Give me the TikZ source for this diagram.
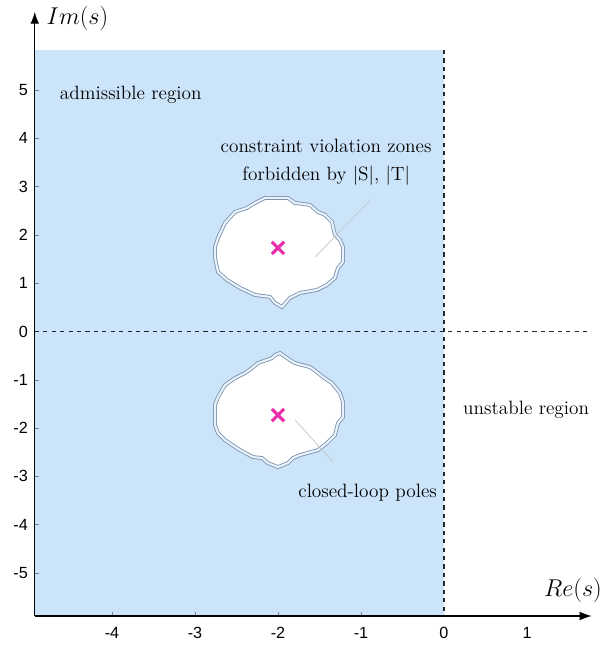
\documentclass[tikz,border=0pt]{standalone}
\usepackage{fontspec}
\newfontfamily\ticksans{Liberation Sans}
\usetikzlibrary{arrows.meta,shapes.misc}
\definecolor{admblue}{RGB}{204,228,250}
\definecolor{zoneline}{RGB}{125,145,172}
\definecolor{polemag}{RGB}{232,45,172}
\tikzset{
  axis/.style={line width=1pt,-{Latex[length=3mm,width=2.2mm]}},
  tickmark/.style={gray,line width=0.4pt},
  ticklab/.style={font=\ticksans\fontsize{11.5}{13}\selectfont,inner sep=0pt},
  regionlab/.style={font=\fontsize{13.7}{20}\selectfont,text=black,inner sep=0pt},
  axlab/.style={font=\fontsize{16}{19}\selectfont,inner sep=0pt},
  zone/.style={draw=zoneline,line width=0.6pt,double=admblue!45!white,double distance=1.5pt,fill=white},
  pole/.style={cross out,draw=polemag,line width=2.2pt,minimum size=6.5pt,inner sep=0pt},
  leader/.style={draw=gray!45,line width=0.5pt},
  boundary/.style={dashed,line width=0.8pt,black!85}
}
\begin{document}
\begin{tikzpicture}[x=2.075cm,y=1.2075cm]
    \useasboundingbox (-5.349,-6.511) rectangle (1.940,6.863);
    \fill[admblue] (-4.93,-5.89) rectangle (0,5.83);

    \begin{scope}[shift={(-2,1.73)},x=0.025cm,y=-0.025cm]
        \draw[zone] (-43,-36) -- (-31,-40) -- (-23,-45) -- (-13,-50) -- (10,-50) -- (17,-45) -- (32,-43) -- (40,-36)
            -- (47,-33) -- (54,-26) -- (57,-13) -- (62,-8) -- (65,-1) -- (65,14) -- (60,20) -- (57,30) -- (49,37)
            -- (39,42) -- (22,45) -- (12,50) -- (4,59) -- (-3,55) -- (-8,49) -- (-23,47) -- (-38,40) -- (-51,32)
            -- (-60,24) -- (-63,10) -- (-63,-1) -- (-60,-10) -- (-53,-25) -- cycle;
    \end{scope}
    \begin{scope}[shift={(-2,-1.73)},x=0.025cm,y=-0.025cm]
        \draw[zone] (-26,-47) -- (-20,-52) -- (-6,-57) -- (-3,-60) -- (2,-62) -- (12,-55) -- (17,-52) -- (32,-48)
            -- (39,-43) -- (45,-38) -- (54,-32) -- (62,-22) -- (65,-13) -- (65,2) -- (60,8) -- (57,20) -- (49,28)
            -- (40,35) -- (22,40) -- (15,43) -- (10,48) -- (0,52) -- (-10,48) -- (-16,43) -- (-25,42) -- (-38,35)
            -- (-53,25) -- (-60,18) -- (-63,10) -- (-63,-10) -- (-60,-18) -- (-53,-30) -- (-43,-37) -- (-33,-42) -- cycle;
    \end{scope}

    \draw[boundary] (0,5.83) -- (0,-5.89);
    \draw[boundary] (-4.93,0) -- (1.76,0);

    \foreach \x in {-4,-3,-2,-1} \draw[tickmark] (\x,-5.89) -- (\x,-5.80);
    \foreach \y in {-5,-4,-3,-2,-1,1,2,3,4,5} \draw[tickmark] (-4.93,\y) -- (-4.88,\y);
    \foreach \x in {-4,-3,-2,-1,0,1} \node[ticklab] (xl\x) at (\x,-6.24) {\x};
    \foreach \y in {-5,-4,-3,-2,-1,0,1,2,3,4,5} \node[ticklab,anchor=east] (yl\y) at (-5.01,\y) {\y};

    \coordinate (origin) at (-4.93,-5.89);
    \coordinate (xend) at (1.78,-5.89);
    \coordinate (yend) at (-4.93,6.62);
    \draw[axis] (origin) -- (xend);
    \draw[axis] (origin) -- (yend);
    \node[axlab,anchor=west] (imlab) at (-4.79,6.49) {$Im(s)$};
    \node[axlab,anchor=east] (relab) at (1.905,-5.37) {$Re(s)$};

    \node[pole] (poleup) at (-2,1.73) {};
    \node[pole] (poledown) at (-2,-1.73) {};

    \node[regionlab,anchor=west] (admlab) at (-4.63,4.90) {admissible region};
    \node[regionlab,align=center] (zonelab) at (-1.42,3.51) {constraint violation zones\\forbidden by |S|, |T|};
    \node[regionlab] (unstlab) at (0.99,-1.625) {unstable region};
    \node[regionlab] (polelab) at (-0.92,-3.34) {closed-loop poles};

    \coordinate (zonetop) at (-0.89,2.72);
    \coordinate (zonebot) at (-1.554,1.54);
    \coordinate (poletop) at (-1.795,-1.83);
    \coordinate (polebot) at (-1.337,-2.70);
    \draw[leader] (zonetop) -- (zonebot);
    \draw[leader] (poletop) -- (polebot);
\end{tikzpicture}
\end{document}
